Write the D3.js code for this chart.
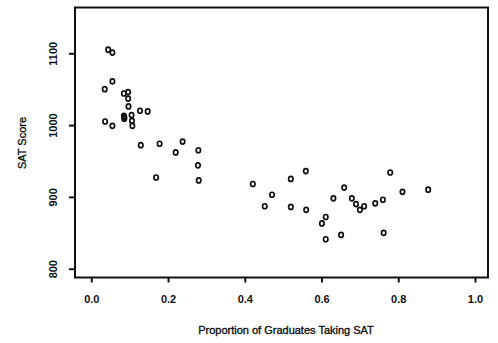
<!DOCTYPE html>
<html>
<head>
<meta charset="utf-8">
<script src="https://cdn.jsdelivr.net/npm/d3@7"></script>
<style>
  html, body { margin: 0; padding: 0; background: #fff; }
  svg { display: block; }
  text { font-family: "Liberation Sans", Arial, sans-serif; fill: #111; }
</style>
</head>
<body>
<svg id="chart" width="498" height="343"></svg>
<script>
// Proportion of high-school graduates taking the SAT, by state
const proportion = [
  0.044, 0.055, 0.055, 0.035, 0.085, 0.096, 0.096, 0.097, 0.127, 0.147,
  0.085, 0.086, 0.086, 0.105, 0.106, 0.107, 0.036, 0.055, 0.129, 0.178,
  0.238, 0.220, 0.279, 0.278, 0.280, 0.169,
  0.421, 0.471, 0.452, 0.520, 0.559, 0.520, 0.560, 0.631, 0.659, 0.679,
  0.690, 0.700, 0.711, 0.611, 0.601, 0.611, 0.651, 0.740,
  0.760, 0.779, 0.811, 0.878, 0.762
];
// Mean SAT score for the same states
const satScore = [
  1105, 1101, 1061, 1050, 1044, 1046, 1037, 1026, 1020, 1019,
  1013, 1009, 1011, 1014, 1006, 999, 1005, 999, 972, 974,
  977, 962, 965, 944, 923, 927,
  918, 903, 887, 925, 936, 886, 882, 898, 913, 898,
  890, 882, 887, 872, 863, 841, 847, 891,
  896, 934, 907, 910, 850
];
const xTicks = [0, 0.2, 0.4, 0.6, 0.8, 1.0];
const yTicks = [800, 900, 1000, 1100];
const xTitle = "Proportion of Graduates Taking SAT";
const yTitle = "SAT Score";

const svg = d3.select("#chart");

// Frame of the plotting region
const frame = { left: 75, right: 488, top: 7.5, bottom: 277.5 };

const x = d3.scaleLinear().domain([0, 1]).range([91.3, 475]);
const y = d3.scaleLinear().domain([800, 1100]).range([268.7, 53.3]);

svg.append("rect")
  .attr("x", frame.left).attr("y", frame.top)
  .attr("width", frame.right - frame.left)
  .attr("height", frame.bottom - frame.top)
  .attr("fill", "none").attr("stroke", "#111").attr("stroke-width", 2);

// Bottom axis: ticks hang below the frame
const xAxis = d3.axisBottom(x).tickValues(xTicks).tickFormat(d3.format(".1f"))
  .tickSize(5).tickPadding(13);
const gx = svg.append("g").attr("transform", `translate(0,${frame.bottom})`).call(xAxis);
gx.select(".domain").remove();
gx.selectAll(".tick line").attr("stroke", "#111").attr("stroke-width", 2);
gx.selectAll(".tick text")
  .attr("font-size", 11).attr("font-weight", "bold")
  .attr("font-family", "Liberation Sans, Arial, sans-serif").attr("fill", "#111");

// Left axis: labels rotated to run along the axis
const yAxis = d3.axisLeft(y).tickValues(yTicks).tickFormat(d3.format("d"))
  .tickSize(6).tickPadding(0);
const gy = svg.append("g").attr("transform", `translate(${frame.left},0)`).call(yAxis);
gy.select(".domain").remove();
gy.selectAll(".tick line").attr("stroke", "#111").attr("stroke-width", 2);
gy.selectAll(".tick text")
  .attr("x", 0).attr("dy", null)
  .attr("transform", "translate(-22,0) rotate(-90)")
  .attr("text-anchor", "middle").attr("dominant-baseline", "central")
  .attr("font-size", 11).attr("font-weight", "bold")
  .attr("font-family", "Liberation Sans, Arial, sans-serif").attr("fill", "#111");

// Axis titles, slightly heavier than regular weight
svg.append("text")
  .attr("x", 286).attr("y", 334)
  .attr("text-anchor", "middle").attr("font-size", 11)
  .attr("stroke", "#111").attr("stroke-width", 0.35)
  .text(xTitle);

svg.append("text")
  .attr("transform", "translate(26,143) rotate(-90)")
  .attr("text-anchor", "middle").attr("font-size", 11)
  .attr("stroke", "#111").attr("stroke-width", 0.35)
  .text(yTitle);

// Data points as open circles
svg.append("g").selectAll("ellipse")
  .data(proportion.map((p, i) => ({ p, s: satScore[i] })))
  .join("ellipse")
  .attr("cx", d => x(d.p))
  .attr("cy", d => y(d.s))
  .attr("rx", 2.2).attr("ry", 2.5)
  .attr("fill", "none").attr("stroke", "#111").attr("stroke-width", 1.7);
</script>
</body>
</html>
